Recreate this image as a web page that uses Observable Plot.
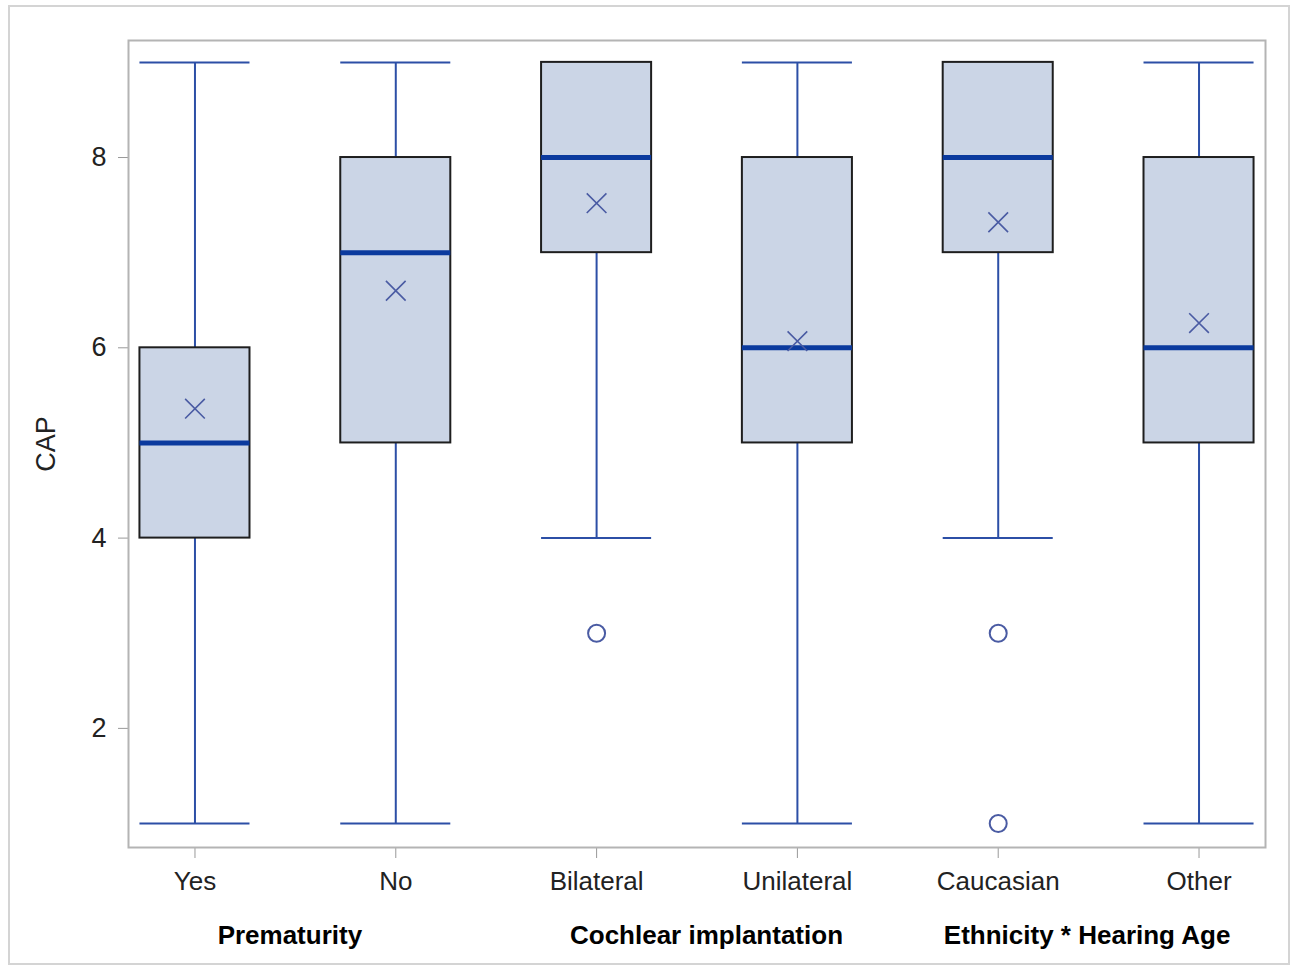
<!DOCTYPE html>
<html>
<head>
<meta charset="utf-8">
<script src="https://cdn.jsdelivr.net/npm/d3@7"></script>
<script src="https://cdn.jsdelivr.net/npm/@observablehq/plot@0.6"></script>
<style>
  html, body { margin: 0; padding: 0; background: #fff; }
  #wrap { position: relative; width: 1292px; height: 965px; }
  #border { position: absolute; left: 8px; top: 5px; width: 1278px; height: 956px; border: 2px solid #d4d4d4; pointer-events: none; }
</style>
</head>
<body>
<div id="wrap"><div id="border"></div></div>
<script>
const categories = ["Yes", "No", "Bilateral", "Unilateral", "Caucasian", "Other"];
const whiskerLow = [1, 1, 4, 1, 4, 1];
const q1 = [4, 5, 7, 5, 7, 5];
const median = [5, 7, 8, 6, 8, 6];
const q3 = [6, 8, 9, 8, 9, 8];
const whiskerHigh = [9, 9, 9, 9, 9, 9];
const mean = [5.36, 6.6, 7.52, 6.07, 7.32, 6.26];
const outlierCat = ["Bilateral", "Caucasian", "Caucasian"];
const outlierVal = [3, 3, 1];
const groupNames = ["Prematurity", "Cochlear implantation", "Ethnicity * Hearing Age"];
const groupMembers = [["Yes", "No"], ["Bilateral", "Unilateral"], ["Caucasian", "Other"]];
const yTicks = [2, 4, 6, 8];

const boxes = categories.map((c, i) => ({
  cat: c, lo: whiskerLow[i], q1: q1[i], med: median[i], q3: q3[i], hi: whiskerHigh[i], mean: mean[i]
}));
const outliers = outlierCat.map((c, i) => ({cat: c, v: outlierVal[i]}));

const font = "'Liberation Sans', Arial, Helvetica, sans-serif";
const whiskerColor = "#2c4fa6";
const groupLabelShift = [-5, 10, -11]; // style: label nudges as in the original layout

const plot = Plot.plot({
  width: 1292,
  height: 965,
  marginLeft: 128,
  marginRight: 27,
  marginTop: 40,
  marginBottom: 118,
  style: {fontFamily: font, fontSize: "26px", color: "#222", background: "transparent"},
  x: {type: "band", domain: categories, paddingInner: 0.452, paddingOuter: 0.057, round: false},
  y: {domain: [0.748, 9.23]},
  marks: [
    Plot.axisX({tickSize: 11, tickPadding: 13, stroke: "#999", fill: "#222", fontSize: 26, label: null}),
    Plot.axisY({ticks: yTicks, tickSize: 10, tickPadding: 12, stroke: "#999", fill: "#222", fontSize: 26,
      label: "CAP", labelAnchor: "center", labelArrow: "none", labelOffset: 93, fontSize: 27}),
    Plot.ruleX(boxes, {x: "cat", y1: "lo", y2: "hi", stroke: whiskerColor, strokeWidth: 2}),
    Plot.tickY(boxes, {x: "cat", y: "lo", stroke: whiskerColor, strokeWidth: 2}),
    Plot.tickY(boxes, {x: "cat", y: "hi", stroke: whiskerColor, strokeWidth: 2}),
    Plot.barY(boxes, {x: "cat", y1: "q1", y2: "q3", fill: "#cbd5e6", stroke: "#1e1e1e", strokeWidth: 2}),
    Plot.tickY(boxes, {x: "cat", y: "med", stroke: "#0b3a9e", strokeWidth: 5}),
    Plot.dot(boxes, {x: "cat", y: "mean", symbol: "times", r: 9, stroke: "#4a5ba3", strokeWidth: 1.6}),
    Plot.dot(outliers, {x: "cat", y: "v", symbol: "circle", r: 8.5, stroke: "#4a5ba3", strokeWidth: 2, fill: "none"}),
    Plot.frame({stroke: "#b4b4b4", strokeWidth: 2})
  ]
});

const xs = plot.scale("x");
const bw = xs.bandwidth;
const svg = d3.select(plot);
groupNames.forEach((g, i) => {
  const [a, b] = groupMembers[i];
  const cx = (xs.apply(a) + xs.apply(b)) / 2 + bw / 2 + groupLabelShift[i];
  svg.append("text")
    .attr("x", cx)
    .attr("y", 944)
    .attr("text-anchor", "middle")
    .attr("font-family", font)
    .attr("font-weight", "bold")
    .attr("font-size", 26)
    .attr("fill", "#000")
    .text(g);
});

document.getElementById("wrap").appendChild(plot);
</script>
</body>
</html>
